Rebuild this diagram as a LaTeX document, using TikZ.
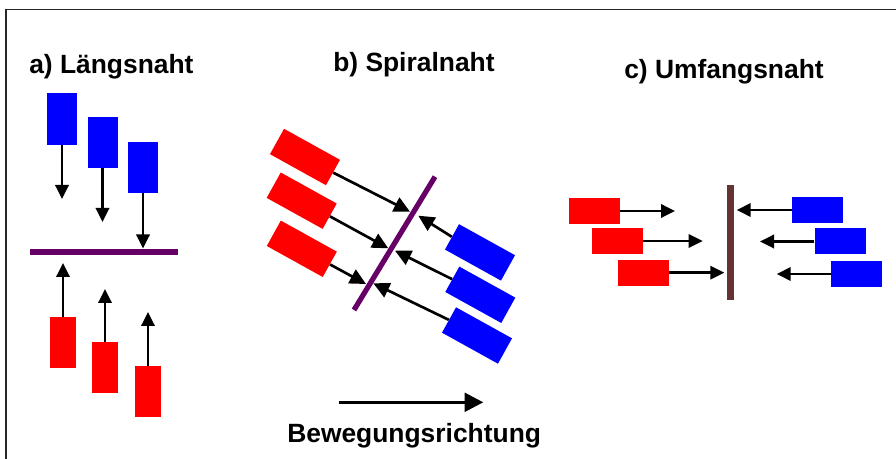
\documentclass[tikz,border=0pt]{standalone}
\usepackage{fontspec}
\setmainfont{Liberation Sans}
\usetikzlibrary{arrows.meta}
\definecolor{seampurple}{HTML}{660066}
\definecolor{seambrown}{HTML}{663333}
\definecolor{redpart}{HTML}{FF0000}
\definecolor{bluepart}{HTML}{0000FF}
\begin{document}
\begin{tikzpicture}[x=0.75pt,y=-0.75pt,
  title/.style={anchor=base west,inner sep=0pt,font=\fontsize{19.8pt}{24pt}\selectfont\bfseries},
  part/.style={rectangle,inner sep=0pt,draw=none},
  vpart/.style={part,minimum width=22.5pt,minimum height=38.5pt},
  vpartr/.style={part,minimum width=19.5pt,minimum height=38.25pt},
  spart/.style={part,minimum width=48pt,minimum height=21.75pt,rotate=-29},
  hpart/.style={part,minimum width=38.25pt,minimum height=19.5pt},
  arr/.style={-{Triangle[length=10.5pt,width=10pt]},line width=1.8pt},
  sarr/.style={-{Triangle[length=12pt,width=11.5pt]},line width=2pt},
  bigarr/.style={-{Triangle[length=14pt,width=14pt]},line width=2.4pt},
  seam/.style={line width=#1}]
\useasboundingbox (0,0) rectangle (896,459);
\fill[white] (0,0) rectangle (896,459);
% outer frame (left and top edges)
\draw[line width=1.3pt,black!85] (6,459) -- (6,9.5) -- (896,9.5);

% titles
\node[title] (ta) at (29,73.5) {a) Längsnaht};
\node[title] (tb) at (333,72) {b) Spiralnaht};
\node[title] (tc) at (624,78.5) {c) Umfangsnaht};

% ---------- a) longitudinal seam ----------
\coordinate (sa1) at (30,252);
\coordinate (sa2) at (178,252);
\draw[seam=4.5pt,seampurple] (sa1) -- (sa2);

\node[vpart,fill=bluepart] (ab1) at (62,119) {};
\node[vpart,fill=bluepart] (ab2) at (102.5,142.5) {};
\node[vpart,fill=bluepart] (ab3) at (143,167.5) {};
\node[vpartr,fill=redpart] (ar1) at (63,342.5) {};
\node[vpartr,fill=redpart] (ar2) at (105,367.5) {};
\node[vpartr,fill=redpart] (ar3) at (148,392) {};

\coordinate (tab1) at (61,199);
\coordinate (tab2) at (103,222);
\coordinate (tab3) at (144,248.5);
\coordinate (tar1) at (63,263);
\coordinate (tar2) at (104,289);
\coordinate (tar3) at (146,312);
\draw[arr] (ab1.south) -- (ab1.south |- tab1);
\draw[arr] (ab2.south) -- (ab2.south |- tab2);
\draw[arr] (ab3.south) -- (ab3.south |- tab3);
\draw[arr] (ar1.north) -- (ar1.north |- tar1);
\draw[arr] (ar2.north) -- (ar2.north |- tar2);
\draw[arr] (ar3.north) -- (ar3.north |- tar3);

% ---------- b) spiral seam ----------
\coordinate (sb1) at (435,176.7);
\coordinate (sb2) at (354,310);
\draw[seam=3.9pt,seampurple] (sb1) -- (sb2);

\node[spart,fill=redpart] (br1) at (305,157) {};
\node[spart,fill=redpart] (br2) at (301.7,200.7) {};
\node[spart,fill=redpart] (br3) at (301.8,248.8) {};
\node[spart,fill=bluepart] (bb1) at (480,252.4) {};
\node[spart,fill=bluepart] (bb2) at (480.3,294.8) {};
\node[spart,fill=bluepart] (bb3) at (477,335.5) {};

\coordinate (tbr1) at (410,211.7);
\coordinate (tbr2) at (388.3,248.3);
\coordinate (tbr3) at (366,284);
\coordinate (tbb1) at (418.3,215.7);
\coordinate (tbb2) at (395,250.7);
\coordinate (tbb3) at (373.3,283.3);
\draw[sarr] (br1.east) -- (tbr1);
\draw[sarr] (br2.east) -- (tbr2);
\draw[sarr] (br3.east) -- (tbr3);
\draw[sarr] (bb1.west) -- (tbb1);
\draw[sarr] (bb2.west) -- (tbb2);
\draw[sarr] (bb3.west) -- (tbb3);

% ---------- c) circumferential seam ----------
\coordinate (sc1) at (730.7,185);
\coordinate (sc2) at (730.7,300);
\draw[seam=5pt,seambrown] (sc1) -- (sc2);

\node[hpart,fill=redpart] (cr1) at (594.5,211) {};
\node[hpart,fill=redpart] (cr2) at (617.5,241) {};
\node[hpart,fill=redpart] (cr3) at (643.5,272.7) {};
\node[hpart,fill=bluepart] (cb1) at (817.5,210) {};
\node[hpart,fill=bluepart] (cb2) at (840,241.5) {};
\node[hpart,fill=bluepart] (cb3) at (856.5,274) {};

\coordinate (tcr1) at (675,210);
\coordinate (tcr2) at (702.7,240);
\coordinate (tcr3) at (724.3,274);
\coordinate (tcb1) at (736.7,210.7);
\coordinate (tcb2) at (760,242.3);
\coordinate (tcb3) at (776.7,273.3);
\draw[arr] (cr1.east) -- (cr1.east -| tcr1);
\draw[arr] (cr2.east) -- (cr2.east -| tcr2);
\draw[arr] (cr3.east) -- (cr3.east -| tcr3);
\draw[arr] (cb1.west) -- (cb1.west -| tcb1);
\draw[arr] (cb2.west) -- (cb2.west -| tcb2);
\draw[arr] (cb3.west) -- (cb3.west -| tcb3);

% ---------- direction of motion ----------
\coordinate (m1) at (339,402.3);
\coordinate (m2) at (483.3,402.3);
\draw[bigarr] (m1) -- (m2);
\node[title] (tm) at (287,442) {Bewegungsrichtung};
\end{tikzpicture}
\end{document}
